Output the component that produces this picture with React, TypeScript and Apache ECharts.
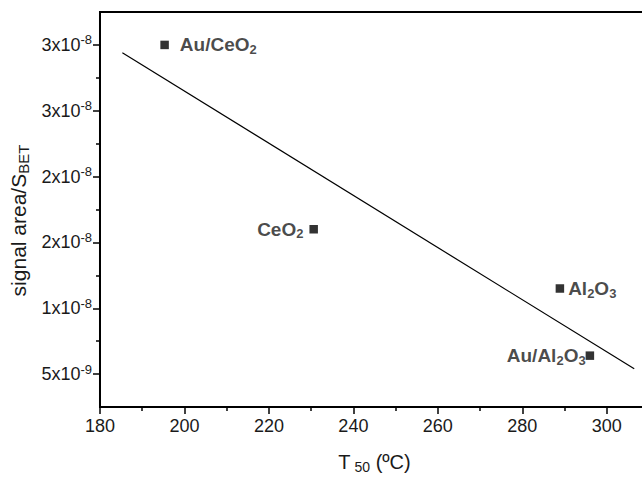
import React, { useEffect, useRef } from "react";
import * as echarts from "echarts";

// ---- data ----
const sampleNames = ["Au/CeO2", "CeO2", "Al2O3", "Au/Al2O3"];
const sampleLabels = [
  "{b|Au/CeO}{s|2}",
  "{b|CeO}{s|2}",
  "{b|Al}{s|2}{b|O}{s|3}",
  "{b|Au/Al}{s|2}{b|O}{s|3}",
];
const t50Values = [195.3, 230.6, 288.9, 296.0];
const signalValues = [3.0e-8, 1.6e-8, 1.15e-8, 6.4e-9];

const fitX = [185.3, 306.5];
const fitY = [2.94e-8, 5.4e-9];

const xTickMin = 180;
const xTickMax = 310;
const xTickStep = 20;
const yMin = 2.5e-9;
const yMax = 3.25e-8;
const yTickValues = [5e-9, 1e-8, 1.5e-8, 2e-8, 2.5e-8, 3e-8];
const yTickMantissas = ["5", "1", "2", "2", "3", "3"];
const yTickExponents = ["-9", "-8", "-8", "-8", "-8", "-8"];
const yMinorTickValues = [7.5e-9, 1.25e-8, 1.75e-8, 2.25e-8, 2.75e-8];

const FONT = "'Liberation Sans', Arial, Helvetica, sans-serif";
const INK = "#1a1a1a";

const labelPlacement: Record<string, { position: string; distance: number }> = {
  "Au/CeO2": { position: "right", distance: 11 },
  CeO2: { position: "left", distance: 6 },
  Al2O3: { position: "right", distance: 4 },
  "Au/Al2O3": { position: "left", distance: 0 },
};

export default function App() {
  const ref = useRef<HTMLDivElement>(null);
  useEffect(() => {
    document.body.style.margin = "0";
    if (!ref.current) return;
    const chart = echarts.init(ref.current, null, { renderer: "svg" });

    const labelRich = {
      b: { fontFamily: FONT, fontSize: 19, fontWeight: "bold", color: INK },
      s: {
        fontFamily: FONT,
        fontSize: 13,
        fontWeight: "bold",
        color: INK,
        padding: [9, 0, 0, 0],
      },
    };

    const scatterData = sampleNames.map((name, i) => ({
      name,
      value: [t50Values[i], signalValues[i]],
      label: {
        show: true,
        formatter: sampleLabels[i],
        position: labelPlacement[name].position,
        distance: labelPlacement[name].distance,
        rich: labelRich,
      },
    }));

    const axisLineStyle = { color: "#000", width: 1.5 };

    chart.setOption({
      animation: false,
      grid: {
        left: 99,
        top: 12,
        right: 11,
        bottom: 64,
        show: true,
        borderColor: "#000",
        borderWidth: 2,
        backgroundColor: "transparent",
      },
      xAxis: {
        type: "value",
        min: xTickMin,
        max: xTickMax,
        interval: xTickStep,
        name: "{n|T}{sub|50}{n| (ºC)}",
        nameLocation: "middle",
        nameGap: 43,
        nameTextStyle: {
          rich: {
            n: { fontFamily: FONT, fontSize: 20, color: INK },
            sub: { fontFamily: FONT, fontSize: 14, color: INK, padding: [10, 0, 0, 4] },
          },
        },
        axisLine: { show: true, lineStyle: axisLineStyle },
        axisTick: { show: true, inside: false, length: 7, lineStyle: axisLineStyle },
        minorTick: { show: true, splitNumber: 2, length: 4, lineStyle: { color: "#000", width: 1.5 } },
        axisLabel: {
          margin: 10,
          fontFamily: FONT,
          fontSize: 18,
          color: INK,
          formatter: (v: number) => (v > 300 ? "" : String(v)),
        },
        splitLine: { show: false },
      },
      yAxis: [
        {
          type: "value",
          min: yMin,
          max: yMax,
          name: "{n|signal area/S}{sub|BET}",
          nameLocation: "middle",
          nameGap: 66,
          nameRotate: 90,
          nameTextStyle: {
            padding: [0, 22, 0, 0],
            rich: {
              n: { fontFamily: FONT, fontSize: 21, color: INK },
              sub: { fontFamily: FONT, fontSize: 15, color: INK, padding: [9, 0, 0, 0] },
            },
          },
          axisLine: { show: true, lineStyle: axisLineStyle },
          axisTick: {
            show: true,
            inside: false,
            length: 7,
            lineStyle: axisLineStyle,
            customValues: yTickValues,
          },
          axisLabel: {
            margin: 8,
            customValues: yTickValues,
            formatter: (v: number) => {
              let idx = -1;
              yTickValues.forEach((t, i) => {
                if (Math.abs(t - v) < 1e-12) idx = i;
              });
              if (idx < 0) return "";
              return `{a|${yTickMantissas[idx]}x10}{s|${yTickExponents[idx]}}`;
            },
            rich: {
              a: { fontFamily: FONT, fontSize: 18, color: INK },
              s: { fontFamily: FONT, fontSize: 13, color: INK, padding: [0, 0, 10, 0] },
            },
          },
          splitLine: { show: false },
        },
        {
          type: "value",
          min: yMin,
          max: yMax,
          position: "left",
          axisLine: { show: false },
          axisTick: {
            show: true,
            inside: false,
            length: 4,
            lineStyle: axisLineStyle,
            customValues: yMinorTickValues,
          },
          axisLabel: { show: false },
          splitLine: { show: false },
        },
      ],
      series: [
        {
          type: "line",
          data: fitX.map((x, i) => [x, fitY[i]]),
          showSymbol: false,
          symbol: "none",
          lineStyle: { color: "#000", width: 1.2 },
          z: 2,
        },
        {
          type: "scatter",
          symbol: "rect",
          symbolSize: 8.5,
          itemStyle: { color: "#000" },
          data: scatterData,
          z: 3,
        },
      ],
    });
    return () => chart.dispose();
  }, []);

  return (
    <div style={{ width: 642, height: 479, overflow: "hidden", position: "relative", background: "#fff" }}>
      <div ref={ref} style={{ width: 660, height: 479 }} />
    </div>
  );
}
